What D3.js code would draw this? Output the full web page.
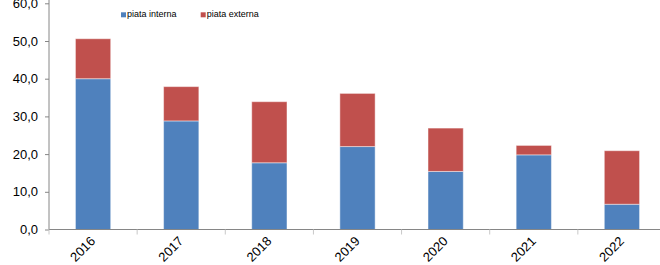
<!DOCTYPE html>
<html>
<head>
<meta charset="utf-8">
<script src="https://cdn.jsdelivr.net/npm/d3@7"></script>
<style>
  body { margin: 0; background: #fff; }
  text { font-family: "Liberation Sans", Arial, sans-serif; fill: #000; }
</style>
</head>
<body>
<div id="chart"></div>
<script>
// data
var years = ["2016", "2017", "2018", "2019", "2020", "2021", "2022"];
var piataInterna = [40.0, 28.8, 17.7, 22.0, 15.4, 19.8, 6.7];
var piataExterna = [10.6, 9.1, 16.2, 14.1, 11.5, 2.5, 14.2];
var yTicks = [0, 10, 20, 30, 40, 50, 60];
var seriesNames = ["piata interna", "piata externa"];
var seriesColors = ["#4F81BD", "#C0504D"];

var W = 660, H = 265;
var margin = { top: 3.3, left: 49, bottom: 35.5 };
var plotRight = 666;

var svg = d3.select("#chart").append("svg")
  .attr("width", W)
  .attr("height", H);

var x = d3.scaleBand()
  .domain(years)
  .range([margin.left, plotRight])
  .paddingInner(0.6)
  .paddingOuter(0.3);

var y = d3.scaleLinear()
  .domain([0, 60])
  .range([H - margin.bottom, margin.top]);

// stacked data
var rows = years.map(function(yr, i) {
  return { year: yr, interna: piataInterna[i], externa: piataExterna[i] };
});
var stack = d3.stack().keys(["interna", "externa"]);
var layers = stack(rows);

svg.selectAll("g.layer")
  .data(layers)
  .enter().append("g")
  .attr("class", "layer")
  .attr("fill", function(d, i) { return seriesColors[i]; })
  .selectAll("rect")
  .data(function(d) { return d; })
  .enter().append("rect")
  .attr("x", function(d) { return x(d.data.year); })
  .attr("y", function(d) { return y(d[1]); })
  .attr("width", x.bandwidth())
  .attr("height", function(d) { return y(d[0]) - y(d[1]); })
  .attr("stroke", "#fff")
  .attr("stroke-opacity", 0.45)
  .attr("stroke-width", 1);

// y axis
var yAxis = d3.axisLeft(y)
  .tickValues(yTicks)
  .tickSize(4)
  .tickPadding(7)
  .tickFormat(function(d) { return d3.format(".1f")(d).replace(".", ","); });

var gy = svg.append("g")
  .attr("transform", "translate(" + margin.left + ",0)")
  .call(yAxis);
gy.select(".domain").attr("stroke", "#868686").attr("d", "M0," + 0 + "V" + y(0));
gy.selectAll(".tick line").attr("stroke", "#868686");
gy.selectAll(".tick text")
  .style("font-size", "13px")
  .style("font-family", "Liberation Sans, Arial, sans-serif");

// x axis
var xAxis = d3.axisBottom(x).tickSize(0).tickFormat("");
var gx = svg.append("g")
  .attr("transform", "translate(0," + y(0) + ")")
  .call(xAxis);
gx.select(".domain").attr("stroke", "#868686").attr("d", "M" + margin.left + ",0H" + plotRight);

// category boundary ticks
var step = x.step();
gx.selectAll("line.bound")
  .data(years)
  .enter().append("line")
  .attr("class", "bound")
  .attr("x1", function(d, i) { return margin.left + i * step; })
  .attr("x2", function(d, i) { return margin.left + i * step; })
  .attr("y1", 0)
  .attr("y2", 5)
  .attr("stroke", "#c8c8c8");

// rotated year labels
svg.append("g").selectAll("text")
  .data(years)
  .enter().append("text")
  .attr("transform", function(d) {
    return "translate(" + (x(d) + x.bandwidth() / 2 + 3) + "," + (y(0) + 12.5) + ") rotate(-45)";
  })
  .attr("text-anchor", "end")
  .style("font-size", "13px")
  .text(function(d) { return d; });

// legend
var legendX = [121, 200.7];
var legend = svg.append("g").selectAll("g")
  .data(seriesNames)
  .enter().append("g")
  .attr("transform", function(d, i) { return "translate(" + legendX[i] + ",12.3)"; });
legend.append("rect")
  .attr("width", 5)
  .attr("height", 5)
  .attr("fill", function(d, i) { return seriesColors[i]; });
legend.append("text")
  .attr("x", 6)
  .attr("y", 5)
  .style("font-size", "9px")
  .text(function(d) { return d; });
</script>
</body>
</html>
